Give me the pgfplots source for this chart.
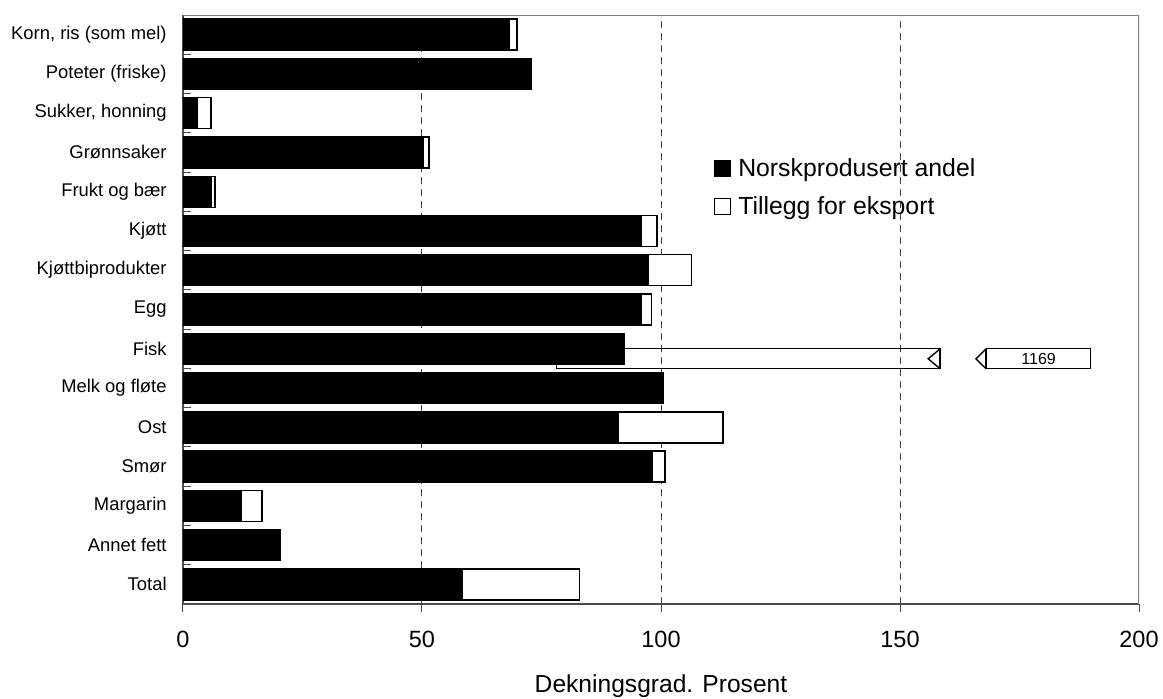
\documentclass[border=0pt]{standalone}
\usepackage{fontspec}
\setmainfont{Liberation Sans}
\usepackage{pgfplots}
\pgfplotsset{compat=1.18}
\usepackage{pgfplotstable}

% y: 14 = top category (Korn), 0 = Total
\pgfplotstableread{
y  norsk  total
14 68.4   69.9
12 3.1    5.9
11 50.3   51.5
10 6.0    6.7
9  96.0   99.2
8  97.4   106.4
7  96.0   98.0
4  91.1   113.0
3  98.2   100.8
2  12.3   16.5
0  58.4   82.9
}\tillegg

\pgfplotstableread{
y  norsk
14 68.4
13 73.0
12 3.1
11 50.3
10 6.0
9  96.0
8  97.4
7  96.0
6  92.3
5  100.5
4  91.1
3  98.2
2  12.3
1  20.3
0  58.4
}\norsk

\begin{document}
\begin{tikzpicture}
\path[use as bounding box] (-91.5pt,-47pt) rectangle (490pt,302pt);
\begin{axis}[
    at={(0,0)}, anchor=south west,
    scale only axis, width=478pt, height=294.5pt,
    xmin=0, xmax=200, ymin=-0.5, ymax=14.5,
    axis x line*=bottom, axis y line*=left,
    axis line style={black!70, line width=0.6pt},
    tick align=inside,
    major tick length=4pt,
    tick style={black!70, line width=0.5pt},
    x tick style={yshift=-4pt},
    xtick={0,50,100,150,200},
    extra x ticks={50,100,150},
    extra x tick labels={},
    extra x tick style={xmajorgrids=true, major tick length=0pt},
    grid style={black!75, line width=0.5pt, dash pattern=on 3.5pt off 2.5pt},
    /pgf/number format/assume math mode=true,
    x tick label style={font=\fontsize{11.75}{13}\selectfont, inner sep=0pt, anchor=north, yshift=-13.5pt},
    ytick={-0.5,0.5,...,14.5},
    yticklabels={},
    extra y ticks={0,1,...,14},
    extra y tick labels={Total, Annet fett, Margarin, Smør, Ost, Melk og fløte, Fisk, Egg,
        Kjøttbiprodukter, Kjøtt, Frukt og bær, Grønnsaker, {Sukker, honning},
        Poteter (friske), {Korn, ris (som mel)}},
    extra y tick style={major tick length=0pt,
        y tick label style={font=\fontsize{9.2}{10}\selectfont, inner sep=0pt, anchor=east, xshift=-8pt}},
    xlabel={Dekningsgrad. Prosent},
    xlabel style={font=\fontsize{12.3}{14}\selectfont, at={(axis description cs:0.5,0)}, anchor=center, yshift=-41pt},
    reverse legend,
    legend cell align=left,
    legend style={at={(0.555,0.764)}, anchor=north west, draw=none, fill=none,
        inner sep=0pt, row sep=4.5pt, font=\fontsize{12.4}{14}\selectfont},
    legend image code/.code={\draw[#1, line width=0.6pt] (0pt,-4pt) rectangle (8pt,4pt);
        \path (9.5pt,0pt);},
]
% Fisk: truncated export bar (total 1169)
\addplot[draw=black, line width=0.7pt, forget plot] coordinates {
    (78.2,5.49) (78.2,6) (158.4,6) (158.4,5.49) (78.2,5.49)};
\addplot[draw=black, line width=0.7pt, forget plot] coordinates {
    (158.4,6) (155.9,5.745) (158.4,5.49)};

\addplot[xbar, bar width=15.5pt, bar shift=0pt, fill=white, draw=black, line width=0.7pt]
    table[x=total, y=y] {\tillegg};
\addplot[xbar, bar width=15.5pt, bar shift=0pt, fill=black, draw=black, line width=0.5pt]
    table[x=norsk, y=y] {\norsk};

% label box for Fisk
\addplot[draw=black, fill=white, line width=0.7pt, forget plot] coordinates {
    (168,6) (189.9,6) (189.9,5.49) (168,5.49) (168,6)};
\addplot[draw=black, line width=0.7pt, forget plot] coordinates {
    (168,6) (165.9,5.745) (168,5.49)};
\node[font=\fontsize{8}{9}\selectfont] at (axis cs:179,5.745) {1169};

\draw[gray, line width=0.6pt] (rel axis cs:0,1) -- (rel axis cs:1,1) -- (rel axis cs:1,0);
\legend{Tillegg for eksport, Norskprodusert andel}
\end{axis}
\end{tikzpicture}
\end{document}
